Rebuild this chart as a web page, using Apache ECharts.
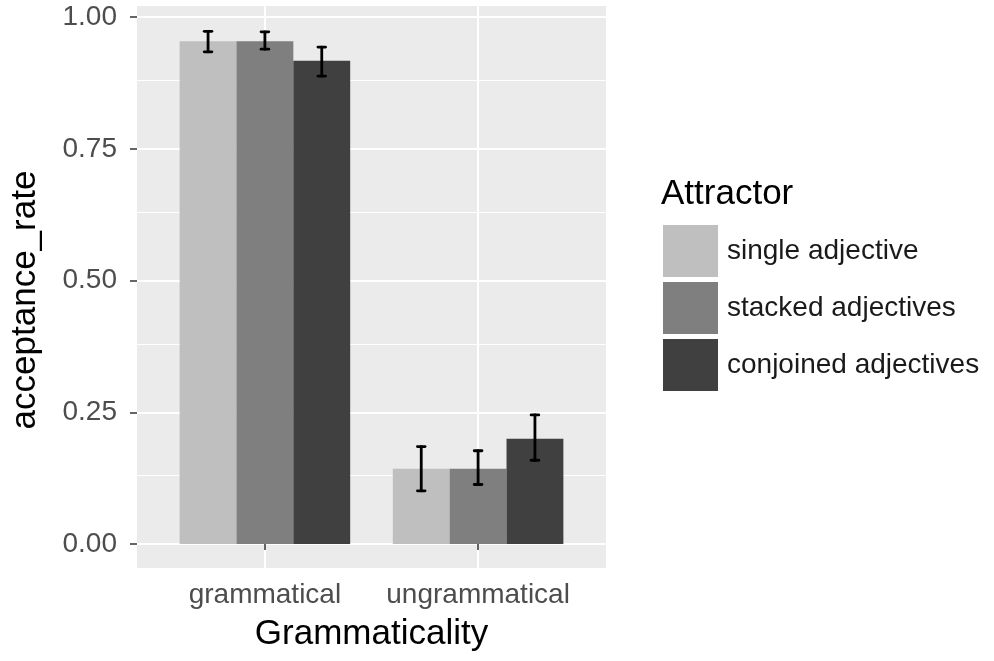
<!DOCTYPE html>
<html>
<head>
<meta charset="utf-8">
<title>acceptance_rate by Grammaticality</title>
<script src="https://cdn.jsdelivr.net/npm/echarts@6.0.0/dist/echarts.min.js"></script>
<style>
  html, body { margin: 0; padding: 0; background: #fff; }
  #main { width: 994px; height: 661px; }
</style>
</head>
<body>
<div id="main"></div>
<script>
// data
var categories = ['grammatical', 'ungrammatical'];
var attractors = ['single adjective', 'stacked adjectives', 'conjoined adjectives'];
var singleRate = [0.954, 0.143];
var stackedRate = [0.954, 0.143];
var conjoinedRate = [0.917, 0.200];
var singleLow = [0.934, 0.101];
var singleHigh = [0.973, 0.185];
var stackedLow = [0.939, 0.113];
var stackedHigh = [0.972, 0.177];
var conjoinedLow = [0.888, 0.159];
var conjoinedHigh = [0.943, 0.245];
var yTicks = [0, 0.25, 0.5, 0.75, 1];
var yMinor = [0.125, 0.375, 0.625, 0.875];

var fills = ['#BFBFBF', '#7F7F7F', '#404040'];
var FONT = 'Liberation Sans, Arial, sans-serif';
var dodge = 0.8 / 3;   // width of one bar in category units
var capWidth = 0.036;

var rates = [singleRate, stackedRate, conjoinedRate];
var lows = [singleLow, stackedLow, conjoinedLow];
var highs = [singleHigh, stackedHigh, conjoinedHigh];

var chart = echarts.init(document.getElementById('main'));

var series = [];
// gridlines of the grey panel
var gridLines = [];
yMinor.forEach(function (v) {
    gridLines.push({ yAxis: v, lineStyle: { width: 1 } });
});
yTicks.forEach(function (v) {
    gridLines.push({ yAxis: v, lineStyle: { width: 2 } });
});
categories.forEach(function (c, i) {
    gridLines.push({ xAxis: i + 1, lineStyle: { width: 2 } });
});
series.push({
    name: 'grid',
    type: 'line',
    data: [],
    silent: true,
    markLine: {
        silent: true,
        z: 0,
        symbol: ['none', 'none'],
        label: { show: false },
        lineStyle: { color: '#FFFFFF', type: 'solid' },
        emphasis: { disabled: true },
        data: gridLines
    }
});

attractors.forEach(function (name, k) {
    series.push({
        name: name,
        type: 'bar',
        z: 2,
        barWidth: (dodge * 100).toFixed(2) + '%',
        barGap: '0%',
        itemStyle: { color: fills[k] },
        emphasis: { disabled: true },
        data: rates[k].map(function (v, i) { return [i + 1, v]; })
    });
});

var errData = [];
attractors.forEach(function (name, k) {
    categories.forEach(function (c, i) {
        errData.push([i + 1 + (k - 1) * dodge, lows[k][i], highs[k][i]]);
    });
});
series.push({
    name: 'errorbars',
    type: 'custom',
    z: 3,
    silent: true,
    data: errData,
    renderItem: function (params, api) {
        var x = api.value(0);
        var lo = api.coord([x, api.value(1)]);
        var hi = api.coord([x, api.value(2)]);
        var half = api.size([capWidth, 0])[0] / 2;
        var style = { stroke: '#000', lineWidth: 2.8, lineCap: 'round' };
        return {
            type: 'group',
            children: [
                { type: 'line', shape: { x1: lo[0], y1: lo[1], x2: hi[0], y2: hi[1] }, style: style },
                { type: 'line', shape: { x1: lo[0] - half, y1: lo[1], x2: lo[0] + half, y2: lo[1] }, style: style },
                { type: 'line', shape: { x1: hi[0] - half, y1: hi[1], x2: hi[0] + half, y2: hi[1] }, style: style }
            ]
        };
    },
    encode: { x: 0, y: [1, 2] }
});

var option = {
    animation: false,
    textStyle: { fontFamily: FONT },
    title: {
        text: 'Attractor',
        left: 661,
        top: 177,
        padding: 0,
        textStyle: { fontFamily: FONT, fontSize: 35, fontWeight: 'normal', color: '#000' }
    },
    legend: {
        orient: 'vertical',
        left: 663,
        top: 225,
        padding: 0,
        itemWidth: 55,
        itemHeight: 52,
        itemGap: 5,
        icon: 'rect',
        data: attractors,
        selectedMode: false,
        textStyle: { fontFamily: FONT, fontSize: 28, color: '#1A1A1A', padding: [0, 0, 0, 4] }
    },
    grid: {
        left: 137,
        top: 6,
        right: 388,
        bottom: 93,
        show: true,
        backgroundColor: '#EBEBEB',
        borderWidth: 0
    },
    xAxis: {
        type: 'value',
        min: 0.4,
        max: 2.6,
        name: 'Grammaticality',
        nameLocation: 'middle',
        nameGap: 49,
        nameTextStyle: { fontFamily: FONT, fontSize: 35, color: '#000' },
        axisLine: { show: false },
        splitLine: { show: false },
        axisTick: {
            show: true,
            customValues: [1, 2],
            length: 6,
            lineStyle: { color: '#333', width: 1.5 }
        },
        axisLabel: {
            customValues: [1, 2],
            margin: 13,
            fontFamily: FONT,
            fontSize: 28,
            color: '#4D4D4D',
            formatter: function (v) { return categories[Math.round(v) - 1]; }
        }
    },
    yAxis: {
        type: 'value',
        min: -0.0455,
        max: 1.021,
        name: 'acceptance_rate',
        nameLocation: 'middle',
        nameGap: 94,
        nameTextStyle: { fontFamily: FONT, fontSize: 35, color: '#000', padding: [0, 26, 0, 0] },
        axisLine: { show: false },
        splitLine: { show: false },
        axisTick: {
            show: true,
            customValues: yTicks,
            length: 7,
            lineStyle: { color: '#333', width: 1.5 }
        },
        axisLabel: {
            customValues: yTicks,
            margin: 20,
            fontFamily: FONT,
            fontSize: 28,
            color: '#4D4D4D',
            formatter: function (v) { return v.toFixed(2); }
        }
    },
    series: series
};

chart.setOption(option);
</script>
</body>
</html>
